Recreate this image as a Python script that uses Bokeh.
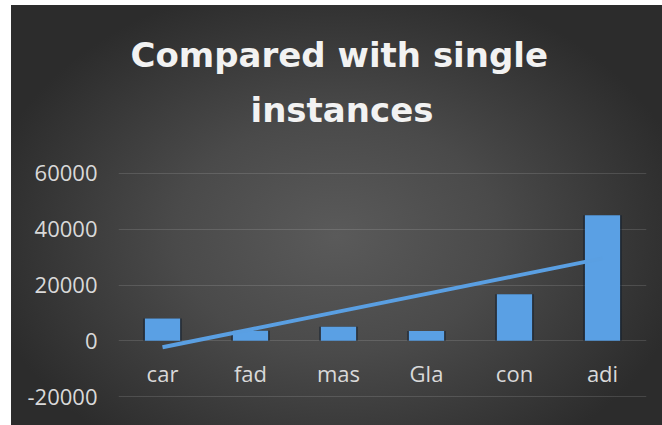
import numpy as np
from bokeh.plotting import figure
from bokeh.models import FixedTicker, Title
from bokeh.core.properties import value
from bokeh.embed import file_html
from bokeh.resources import INLINE

# ---- data ----
categories = ["car", "fad", "mas", "Gla", "con", "adi"]
values = [8000, 3600, 5000, 3500, 16700, 45000]
y_ticks = [-20000, 0, 20000, 40000, 60000]
title_lines = ["Compared with single", "instances"]

# linear trendline (least squares over category index)
idx = np.arange(1, len(values) + 1)
coef = np.polyfit(idx, values, 1)
trend = np.polyval(coef, idx)

pad = 300  # small margin so the outer gridlines are not clipped
p = figure(
    x_range=categories,
    y_range=(y_ticks[0] - pad, y_ticks[-1] + pad),
    width=651, height=420,
    output_backend="svg",
    toolbar_location=None,
    x_axis_location=None,
    min_border_left=107, min_border_right=16,
    min_border_top=167, min_border_bottom=28,
)
p.background_fill_color = None
p.border_fill_color = None
p.outline_line_color = None
p.styles = {
    "margin-left": "11px",
    "margin-top": "5px",
    "background": "radial-gradient(ellipse 55% 62% at 50% 55%, #5a5a5a 0%, #4a4a4a 45%, #2c2c2c 100%)",
}
p.xgrid.visible = False

# y axis
p.yaxis.ticker = FixedTicker(ticks=y_ticks)
p.yaxis.major_label_overrides = {t: str(t) for t in y_ticks}
p.yaxis.axis_line_color = None
p.yaxis.major_tick_line_color = None
p.yaxis.minor_tick_line_color = None
p.yaxis.major_tick_out = 0
p.yaxis.major_tick_in = 0
p.yaxis.major_label_standoff = 21
p.yaxis.major_label_text_color = "#d9d9d9"
p.yaxis.major_label_text_font = "Open Sans"
p.yaxis.major_label_text_font_size = "22px"
p.ygrid.grid_line_color = "#ffffff"
p.ygrid.grid_line_alpha = 0.13
p.ygrid.grid_line_width = 1

# bars with soft shadow
p.vbar(x=categories, top=values, bottom=0, width=0.44,
       fill_color="#0c1a2b", fill_alpha=0.5, line_color=None)
p.vbar(x=categories, top=values, bottom=0, width=0.40,
       fill_color="#5aa0e4", line_color=None)

# trendline
p.line(x=categories, y=trend, line_width=4, line_color="#5a9fe2")

# category labels drawn at the zero line (Excel-style axis crossing)
p.text(x=categories, y=[0] * len(categories), text=categories,
       text_align="center", text_baseline="alphabetic", y_offset=32,
       text_color="#d9d9d9", text_font=value("Open Sans"), text_font_size="22px")

# spacer between frame and title block
p.add_layout(Title(text=" ", text_font_size="2px", standoff=32), "above")
# title (two lines): inner one added first sits closest to the frame
for line_text, off in zip(reversed(title_lines), [132, 12]):
    p.add_layout(Title(text=line_text, align="left", offset=off, standoff=13,
                       text_color="#f2f2f2", text_font="DejaVu Sans",
                       text_font_style="bold", text_font_size="34px"), "above")

open("out.html", "w").write(file_html(p, INLINE))
